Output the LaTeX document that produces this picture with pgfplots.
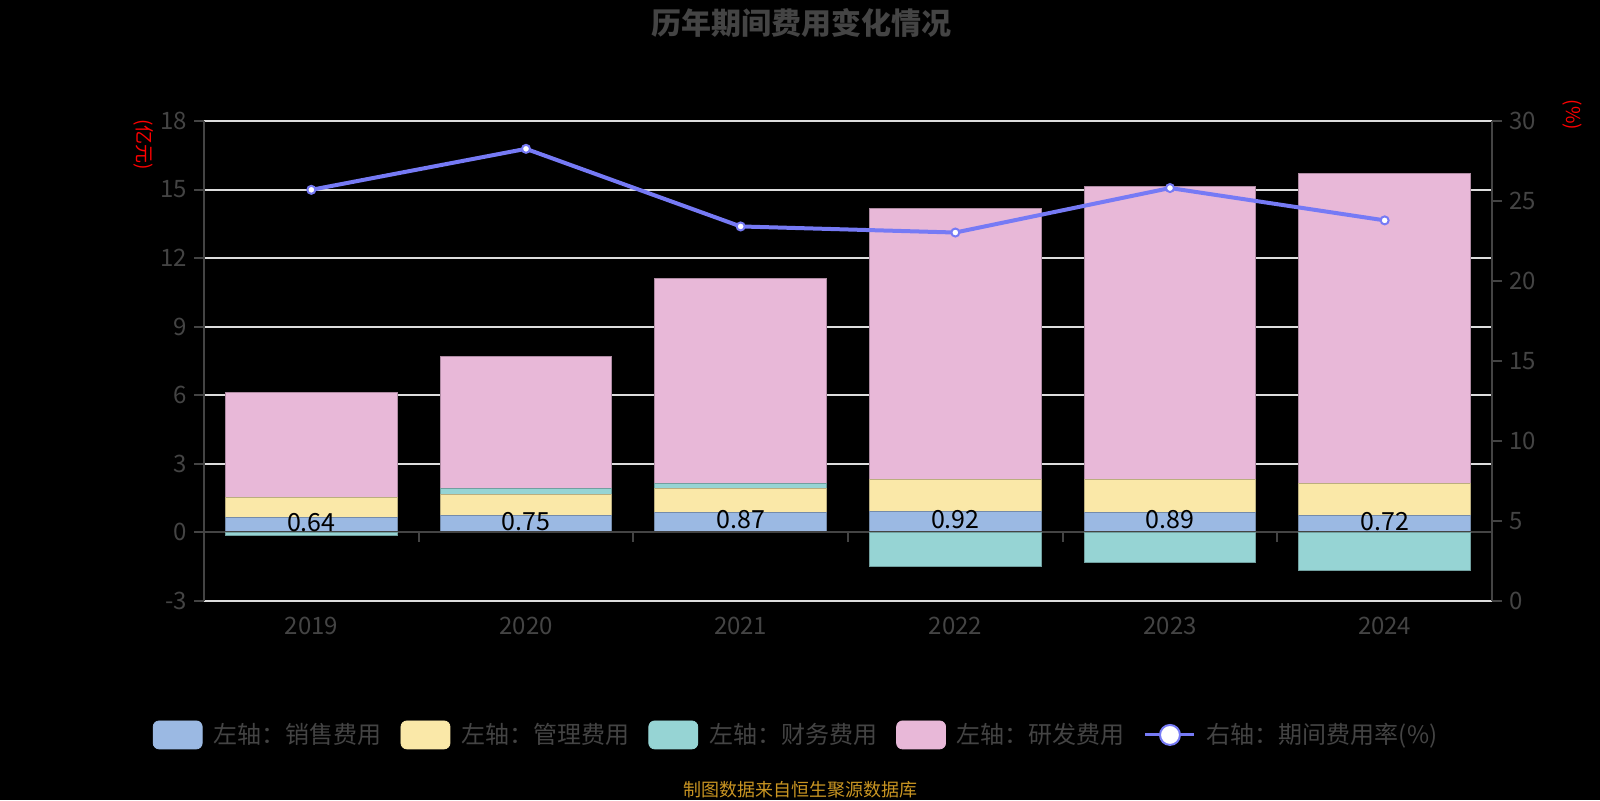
\documentclass[border=0pt]{standalone}
\usepackage{pgfplots}
\pgfplotsset{compat=1.18}
\usepackage{fontspec}
\setmainfont{Noto Sans CJK SC}
\definecolor{cblue}{HTML}{9BB9E3}
\definecolor{cyellow}{HTML}{FAE8A8}
\definecolor{cteal}{HTML}{96D4D4}
\definecolor{cpink}{HTML}{E8B8D8}
\definecolor{linec}{HTML}{767AF5}
\definecolor{gridc}{HTML}{DDDDDD}
\definecolor{axisc}{HTML}{444444}
\definecolor{tickc}{HTML}{444444}
\definecolor{titlec}{HTML}{444444}
\definecolor{srcc}{HTML}{C99522}
\definecolor{unitc}{HTML}{FF0000}
\begin{document}
\begin{tikzpicture}
\path[use as bounding box, fill=black] (0,0) rectangle (800pt,400pt);
\pgfplotsset{
  common/.style={at={(102pt,99.5pt)}, anchor=south west, width=644pt, height=240pt,
    scale only axis, xmin=-0.5, xmax=5.5, /pgf/number format/assume math mode=true, clip=false},
}
\begin{axis}[common, ymin=-3, ymax=18,
  ybar stacked, bar width=0.8,
  axis x line*=bottom, axis y line*=left,
  x axis line style={draw=gridc, line width=1pt},
  y axis line style={draw=axisc, line width=1pt},
  xtick={0,...,5}, xticklabels={2019,2020,2021,2022,2023,2024},
  xtick style={draw=none},
  ytick={-3,0,...,18},
  ytick style={draw=axisc, line width=1pt},
  tick align=outside, major tick length=5pt,
  ymajorgrids, grid style={draw=gridc, line width=1pt},
  ticklabel style={font=\fontsize{12}{14}\selectfont, text=tickc},
  xticklabel style={yshift=0.5pt},
]
\draw[axisc, line width=1pt] (axis cs:-0.5,0) -- (axis cs:5.5,0);
\pgfplotsinvokeforeach{0.5,1.5,2.5,3.5,4.5}{\draw[axisc, line width=1pt] (axis cs:#1,0) -- ++(0pt,-5pt);}
\addplot[fill=cblue, draw=cblue!75!black, line width=0.5pt] coordinates {(0,0.64) (1,0.75) (2,0.87) (3,0.92) (4,0.89) (5,0.72)};
\addplot[fill=cyellow, draw=cyellow!75!black, line width=0.5pt] coordinates {(0,0.89) (1,0.90) (2,1.07) (3,1.41) (4,1.42) (5,1.44)};
\addplot[fill=cteal, draw=cteal!75!black, line width=0.5pt] coordinates {(0,0) (1,0.26) (2,0.18) (3,0) (4,0) (5,0)};
\addplot[fill=cpink, draw=cpink!75!black, line width=0.5pt] coordinates {(0,4.61) (1,5.79) (2,9.01) (3,11.84) (4,12.83) (5,13.55)};
\end{axis}
\begin{axis}[common, ymin=-3, ymax=18, hide axis]
\addplot[ybar, bar width=0.8, bar shift=0pt, fill=cteal, draw=cteal!75!black, line width=0.5pt] coordinates {(0,-0.12) (3,-1.49) (4,-1.33) (5,-1.67)};
\addplot[only marks, mark=none, point meta=explicit symbolic, nodes near coords,
  every node near coord/.append style={anchor=center, yshift=1.3pt, font=\fontsize{12.5}{14}\selectfont, text=black}]
  coordinates {(0,0.33) [0.64] (1,0.375) [0.75] (2,0.435) [0.87] (3,0.46) [0.92] (4,0.445) [0.89] (5,0.36) [0.72]};
\end{axis}
\begin{axis}[common, ymin=0, ymax=30, axis x line=none, axis y line*=right,
  y axis line style={draw=axisc, line width=1pt},
  ytick={0,5,...,30}, ytick style={draw=axisc, line width=1pt},
  tick align=outside, major tick length=5pt,
  yticklabel style={font=\fontsize{12}{14}\selectfont, text=tickc},
  legend columns=5, legend cell align=left,
  legend style={at={(0.4589,-0.279)}, anchor=center, draw=none, fill=none, text=tickc,
    font=\fontsize{12}{14}\selectfont, nodes={inner sep=0pt},
    /tikz/every odd column/.append style={column sep=5.5pt},
    /tikz/every even column/.append style={column sep=9.5pt}},
]
\addlegendimage{legend image code/.code={\fill[cblue, rounded corners=3pt] (0pt,-7pt) rectangle (24.5pt,7pt);}}
\addlegendentry{左轴：销售费用}
\addlegendimage{legend image code/.code={\fill[cyellow, rounded corners=3pt] (0pt,-7pt) rectangle (24.5pt,7pt);}}
\addlegendentry{左轴：管理费用}
\addlegendimage{legend image code/.code={\fill[cteal, rounded corners=3pt] (0pt,-7pt) rectangle (24.5pt,7pt);}}
\addlegendentry{左轴：财务费用}
\addlegendimage{legend image code/.code={\fill[cpink, rounded corners=3pt] (0pt,-7pt) rectangle (24.5pt,7pt);}}
\addlegendentry{左轴：研发费用}
\addplot[linec, line width=2pt, mark=*, mark size=2pt,
  mark options={fill=white, draw=linec, line width=1pt, solid},
  legend image code/.code={\draw[linec, line width=1.5pt] (0pt,0pt) -- (24.5pt,0pt); \draw[linec, fill=white, line width=1pt] (12.25pt,0pt) circle (5pt);}]
  coordinates {(0,25.7) (1,28.26) (2,23.41) (3,23.03) (4,25.81) (5,23.79)};
\addlegendentry{右轴：期间费用率(\%)}
\end{axis}
\node[font=\bfseries\fontsize{15}{18}\selectfont, text=titlec] at (400.5pt,388.75pt) {历年期间费用变化情况};
\node[font=\fontsize{9.5}{11}\selectfont, text=unitc, rotate=-90] at (72pt,327.5pt) {(亿元)};
\node[font=\fontsize{9.5}{11}\selectfont, text=unitc, rotate=-90] at (786pt,342.5pt) {(\%)};
\node[font=\fontsize{9}{11}\selectfont, text=srcc] at (400pt,5pt) {制图数据来自恒生聚源数据库};
\end{tikzpicture}
\end{document}
